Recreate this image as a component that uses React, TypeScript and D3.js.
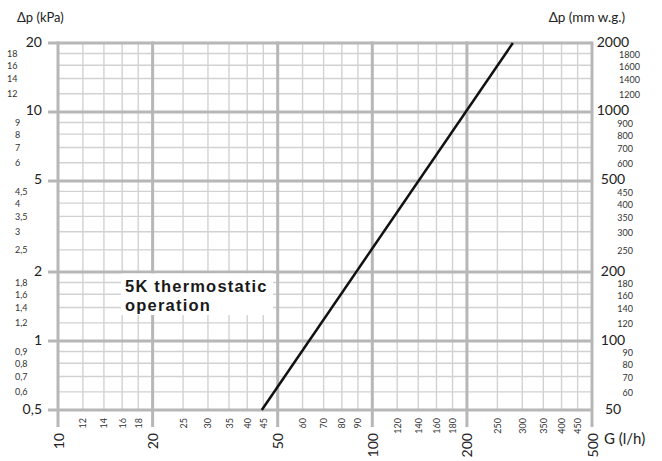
import React from 'react';
import * as d3 from 'd3';

// pressure drop, kPa (left axis)
const kpaMajor = [0.5, 1, 2, 5, 10, 20];
const kpaMinor = [0.6, 0.7, 0.8, 0.9, 1.2, 1.4, 1.6, 1.8, 2.5, 3, 3.5, 4, 4.5, 6, 7, 8, 9, 12, 14, 16, 18];
// pressure drop, mm w.g. (right axis)
const mmMajor = [50, 100, 200, 500, 1000, 2000];
const mmMinor = [60, 70, 80, 90, 120, 140, 160, 180, 250, 300, 350, 400, 450, 600, 700, 800, 900, 1200, 1400, 1600, 1800];
// flow rate G, l/h
const flowMajor = [10, 20, 50, 100, 200, 500];
const flowMinor = [12, 14, 16, 18, 25, 30, 35, 40, 45, 60, 70, 80, 90, 120, 140, 160, 180, 250, 300, 350, 400, 450];
// curve
const curveFlow = [44.5, 280];
const curveDp = [0.5, 20];
const noteLines = ['5K thermostatic', 'operation'];

const W = 662;
const H = 461;
const left = 58, right = 592, top = 43, bottom = 410;

const FONT = 'Lato, "Open Sans", sans-serif';
const MAJOR = '#b7b7b7';
const MINOR = '#d2d2d2';

const fmt = (v: number) => String(v).replace('.', ',');

export default function App() {
  const x = d3.scaleLog().domain([10, 500]).range([left, right]);
  const y = d3.scaleLog().domain([0.5, 20]).range([bottom, top]);
  const yMm = d3.scaleLog().domain([50, 2000]).range([bottom, top]);

  const line = d3.line<number>()
    .x((_, i) => x(curveFlow[i]))
    .y((_, i) => y(curveDp[i]));

  return (
    <svg width={W} height={H} style={{ position: 'absolute', left: 0, top: 0, background: '#fff' }}>
      {/* minor grid */}
      {flowMinor.map(v => (
        <line key={'fx' + v} x1={x(v)} x2={x(v)} y1={top} y2={bottom} stroke={MINOR} strokeWidth={1.4} />
      ))}
      {kpaMinor.map(v => (
        <line key={'ky' + v} x1={left} x2={right} y1={y(v)} y2={y(v)} stroke={MINOR} strokeWidth={1.4} />
      ))}
      {/* major grid */}
      {kpaMajor.map(v => (
        <line key={'KY' + v} x1={left - 10} x2={right} y1={y(v)} y2={y(v)} stroke={MAJOR} strokeWidth={3} />
      ))}
      {flowMajor.map(v => (
        <line key={'FX' + v} x1={x(v)} x2={x(v)} y1={top - 1.5} y2={bottom + 17} stroke={MAJOR} strokeWidth={3} />
      ))}

      {/* annotation */}
      <rect x={121} y={273.5} width={152} height={41.5} fill="#fff" />
      {noteLines.map((t, i) => (
        <text key={t} x={125} y={291.8 + i * 19} fontFamily='"Liberation Sans", Arial, sans-serif' fontWeight="bold"
          fontSize={16.5} letterSpacing={1.2} fill="#1a1a1a">{t}</text>
      ))}

      {/* curve */}
      <path d={line(curveFlow) || ''} fill="none" stroke="#111" strokeWidth={2.5} />

      {/* left labels */}
      {kpaMajor.map(v => (
        <text key={'lk' + v} x={42} y={y(v) - 2} textAnchor="end" dominantBaseline="central"
          fontFamily={FONT} fontSize={14} fill="#222">{fmt(v)}</text>
      ))}
      {kpaMinor.map(v => (
        <text key={'lm' + v} x={v >= 10 ? 7 : 15} y={y(v)} dominantBaseline="central"
          fontFamily={FONT} fontSize={9} fill="#333">{fmt(v)}</text>
      ))}

      {/* right labels */}
      {mmMajor.map(v => (
        <text key={'rk' + v} x={613} y={yMm(v) - 2} textAnchor="middle" dominantBaseline="central"
          fontFamily={FONT} fontSize={14} fill="#222">{v}</text>
      ))}
      {mmMinor.map(v => (
        <text key={'rm' + v} x={String(v).length > 3 ? 640 : 633} y={yMm(v) + 1} textAnchor="end" dominantBaseline="central"
          fontFamily={FONT} fontSize={9} fill="#333">{v}</text>
      ))}

      {/* bottom labels */}
      {flowMajor.map(v => (
        <text key={'bk' + v} transform={`translate(${x(v)},433) rotate(-90)`} textAnchor="end" dominantBaseline="central"
          fontFamily={FONT} fontSize={14} fill="#222">{v}</text>
      ))}
      {flowMinor.map(v => (
        <text key={'bm' + v} transform={`translate(${x(v)},418) rotate(-90)`} textAnchor="end" dominantBaseline="central"
          fontFamily={FONT} fontSize={9} fill="#333">{v}</text>
      ))}

      {/* axis titles */}
      <text x={17} y={22} fontFamily={FONT} fontSize={13} fill="#222">Δp (kPa)</text>
      <text x={625} y={21.5} textAnchor="end" fontFamily={FONT} fontSize={13.5} fill="#222">Δp (mm w.g.)</text>
      <text x={604} y={438} dominantBaseline="central" fontFamily={FONT} fontSize={15} fill="#222">G (l/h)</text>
    </svg>
  );
}
